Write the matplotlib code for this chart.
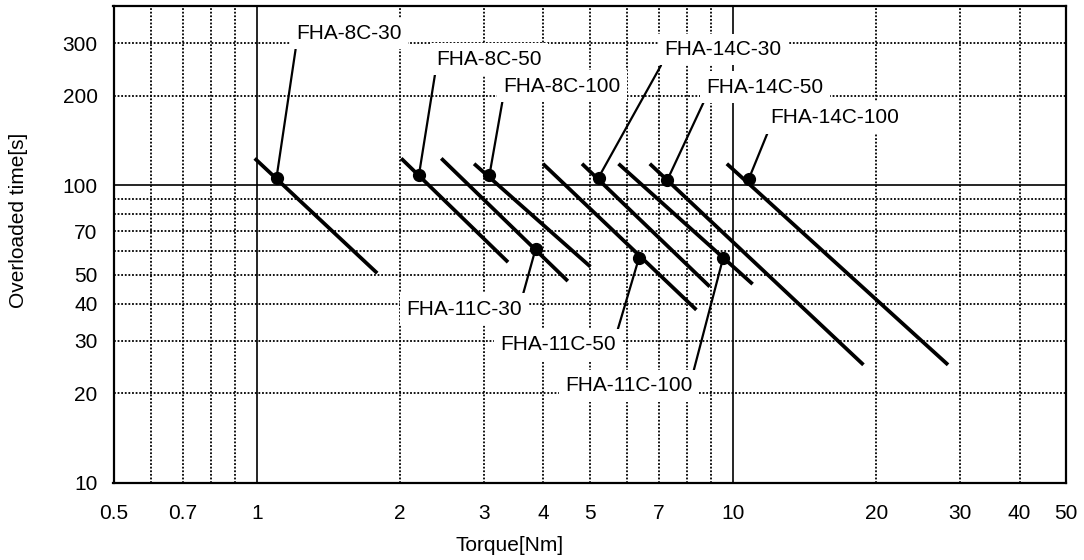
import matplotlib
matplotlib.use("Agg")
import matplotlib.pyplot as plt

plt.rcParams['font.family'] = ['Liberation Sans', 'DejaVu Sans']

# ---------------- data ----------------
models = ["FHA-8C-30", "FHA-8C-50", "FHA-8C-100",
          "FHA-11C-30", "FHA-11C-50", "FHA-11C-100",
          "FHA-14C-30", "FHA-14C-50", "FHA-14C-100"]
torque_start = [0.99, 2.01, 2.86, 2.44, 3.99, 5.75, 4.82, 6.69, 9.71]
time_start = [123, 123, 118, 123, 118, 118, 118, 118, 118]
torque_end = [1.79, 3.37, 5.02, 4.50, 8.38, 11.0, 8.94, 18.8, 28.3]
time_end = [50.6, 55.1, 53.2, 47.6, 38.1, 46.5, 45.6, 24.9, 24.9]
marker_torque = [1.10, 2.19, 3.08, 3.85, 6.35, 9.54, 5.22, 7.28, 10.8]
marker_time = [106, 108, 108, 61, 57, 57, 106, 104, 105]

x_major = [1, 10]
x_major_labels = ["1", "10"]
x_minor = [0.5, 0.6, 0.7, 0.8, 0.9, 2, 3, 4, 5, 6, 7, 8, 9, 20, 30, 40, 50]
x_minor_labels = ["0.5", "", "0.7", "", "", "2", "3", "4", "5", "", "7", "", "",
                  "20", "30", "40", "50"]
y_major = [100]
y_major_labels = ["100"]
y_minor = [10, 20, 30, 40, 50, 60, 70, 80, 90, 200, 300]
y_minor_labels = ["10", "20", "30", "40", "50", "", "70", "", "", "200", "300"]

# ---------------- layout (label offsets from marker, in pixels) ----------------
label_dx = [20, 17, 14, -14, -23, -31, 66, 39, 21]
label_dy = [144, 116, 89, -60, -87, -128, 128, 93, 61]
label_side = ["top", "top", "top", "bottom", "bottom", "bottom", "top", "top", "top"]

# ---------------- figure ----------------
W, H = 1084, 560
fig = plt.figure(figsize=(W / 100, H / 100), dpi=100)
L, R, T, B = 113.5, 1065.7, 6.0, 482.7
ax = fig.add_axes([L / W, 1 - B / H, (R - L) / W, (B - T) / H])
ax.set_xscale("log")
ax.set_yscale("log")
ax.set_xlim(0.5, 50)
ax.set_ylim(10, 400)

ax.set_xticks(x_major)
ax.set_xticklabels(x_major_labels)
ax.set_xticks(x_minor, minor=True)
ax.set_xticklabels(x_minor_labels, minor=True)
ax.set_yticks(y_major)
ax.set_yticklabels(y_major_labels)
ax.set_yticks(y_minor, minor=True)
ax.set_yticklabels(y_minor_labels, minor=True)

ax.tick_params(axis="x", which="both", length=0, pad=15, labelsize=15)
ax.tick_params(axis="y", which="both", length=0, pad=11.5, labelsize=15)

ax.grid(which="major", color="black", linestyle="-", linewidth=1.2, zorder=1)
ax.grid(which="minor", color="black", linestyle=(0, (1, 1)), linewidth=1.3, zorder=1)
ax.set_axisbelow(True)

for s in ax.spines.values():
    s.set_linewidth(1.6)
    s.set_color("black")

for i, name in enumerate(models):
    ax.plot([torque_start[i], torque_end[i]], [time_start[i], time_end[i]],
            color="black", linewidth=2.7, solid_capstyle="butt", zorder=3)
    ax.plot([marker_torque[i]], [marker_time[i]], marker="o", markersize=8.5,
            color="black", zorder=4)
    top = label_side[i] == "top"
    ax.annotate(name, xy=(marker_torque[i], marker_time[i]),
                xytext=(label_dx[i], label_dy[i]), textcoords="offset pixels",
                ha="left" if top else "right", va="center", fontsize=15,
                bbox=dict(boxstyle="square,pad=0.3", fc="white", ec="none"),
                arrowprops=dict(arrowstyle="-", color="black", linewidth=1.6,
                                shrinkA=0, shrinkB=0,
                                relpos=(0, 0) if top else (1, 1)),
                zorder=5)

ax.set_xlabel("Torque[Nm]", fontsize=15, va="center")
ax.xaxis.set_label_coords((509.7 - L) / (R - L), (B - 545.5) / (B - T))
ax.set_ylabel("Overloaded time[s]", fontsize=15, va="center")
ax.yaxis.set_label_coords((19 - L) / (R - L), (B - 220) / (B - T))

fig.savefig("out.png", dpi=100)
